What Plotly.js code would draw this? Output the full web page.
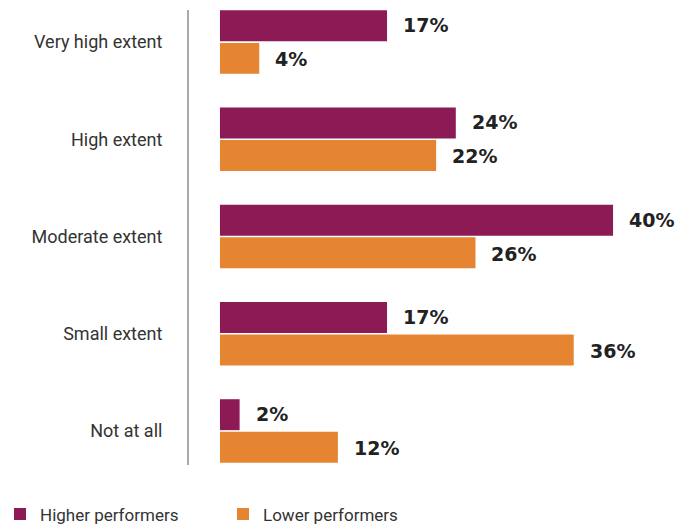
<!DOCTYPE html>
<html><head><meta charset="utf-8">
<script src="https://cdn.plot.ly/plotly-3.0.1.min.js"></script>
<style>html,body{margin:0;padding:0;background:#fff}</style>
</head><body>
<div id="chart" style="width:682px;height:526px"></div>
<script>
const categories = ["Very high extent","High extent","Moderate extent","Small extent","Not at all"];
const higher = [17,24,40,17,2];
const lower = [4,22,26,36,12];
const seriesNames = ["Higher performers","Lower performers"];
const colors = ["#8B1A55","#E58532"];

const traces = [higher, lower].map((vals,i)=>({
  type:"bar", orientation:"h", name:seriesNames[i], y:categories, x:vals,
  marker:{color:colors[i]}, hoverinfo:"none"
}));

const annotations = [];
[higher, lower].forEach((vals,i)=>{
  vals.forEach((v,j)=>{
    annotations.push({x:v, y:categories[j], xref:"x", yref:"y", text:"<b>"+v+"%</b>",
      showarrow:false, xanchor:"left", yanchor:"middle", xshift:14, yshift:(i===0?17:-17),
      font:{family:"DejaVu Sans", size:19, color:"#222"}});
  });
});

const layout = {
  width:682, height:526,
  margin:{l:189, r:10, t:10, b:61, autoexpand:false},
  paper_bgcolor:"#fff", plot_bgcolor:"#fff",
  barmode:"group", bargap:0.33, bargroupgap:0.05,
  xaxis:{range:[-3.15,46], showgrid:false, zeroline:false, showticklabels:false, showline:false},
  yaxis:{type:"category", range:[4.35,-0.33], showgrid:false, zeroline:false,
    showline:true, linecolor:"#aaaaaa", linewidth:2, ticks:"", ticklabelstandoff:21,
    tickfont:{family:"Roboto", size:18, color:"#333"}},
  showlegend:true,
  legend:{orientation:"h", xref:"container", yref:"container", x:-0.021, xanchor:"left", y:0.022, yanchor:"middle",
    entrywidth:178, font:{family:"Roboto", size:17, color:"#333"}, itemwidth:30},
  annotations:annotations
};
Plotly.newPlot("chart", traces, layout, {displayModeBar:false, staticPlot:true});
</script>
</body></html>
